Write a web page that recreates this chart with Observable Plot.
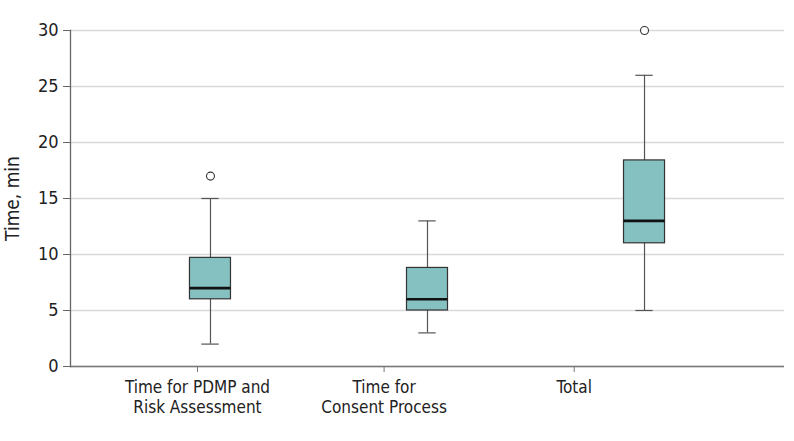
<!DOCTYPE html>
<html><head><meta charset="utf-8">
<script src="https://cdn.jsdelivr.net/npm/d3@7"></script>
<script src="https://cdn.jsdelivr.net/npm/@observablehq/plot@0.6"></script>
<style>body{margin:0;background:#fff}</style>
</head><body><div id="chart"></div>
<script>
// Category labels and box statistics (minutes)
const categories = ["Time for PDMP and\nRisk Assessment", "Time for\nConsent Process", "Total"];
const boxPos = [1, 2, 3];
const whiskerLow = [2, 3, 5];
const q1 = [6, 5, 11];
const median = [7, 6, 13];
const q3 = [9.7, 8.8, 18.4];
const whiskerHigh = [15, 13, 26];
// Outliers
const outlierPos = [1, 3];
const outlierVal = [17, 30];
// Axis tick positions/labels
const labelPos = [0.94, 1.80, 2.676];
const yTicks = [0, 5, 10, 15, 20, 25, 30];

const boxes = boxPos.map((p, i) => ({pos: p, lo: whiskerLow[i], q1: q1[i], med: median[i], q3: q3[i], hi: whiskerHigh[i]}));
const outliers = outlierPos.map((p, i) => ({pos: p, val: outlierVal[i]}));

const boxHalf = 0.0945, capHalf = 0.04;
const font = "'DejaVu Sans Condensed', 'Liberation Sans Narrow', 'Roboto', sans-serif";

const chart = Plot.plot({
  width: 794, height: 441,
  marginLeft: 70, marginRight: 10, marginTop: 30, marginBottom: 75,
  style: {fontFamily: font, fontSize: "17px", color: "#222", background: "#fff"},
  x: {type: "linear", domain: [0.355, 3.645], axis: null},
  y: {domain: [0, 30], axis: null},
  marks: [
    Plot.gridY(yTicks, {stroke: "#d9d9d9", strokeOpacity: 1, strokeWidth: 1.5}),
    Plot.ruleY([0], {stroke: "#777", strokeWidth: 1.5}),
    Plot.frame({anchor: "left", stroke: "#666", strokeWidth: 1.3}),
    Plot.axisY(yTicks, {tickSize: 7, tickPadding: 5, fontSize: 18, label: null, stroke: "#666", color: "#222"}),
    Plot.axisX(labelPos, {tickSize: 6, tickPadding: 7, fontSize: 17, label: null, stroke: "#777", lineHeight: 1.15,
      tickFormat: d => categories[labelPos.indexOf(d)]}),
    Plot.text(["Time, min"], {frameAnchor: "left", rotate: -90, dx: -58, fontSize: 19, textAnchor: "middle", lineAnchor: "middle", fill: "#222"}),
    Plot.ruleX(boxes, {x: "pos", y1: "lo", y2: "hi", stroke: "#555", strokeWidth: 1.2}),
    Plot.ruleY(boxes, {y: "lo", x1: d => d.pos - capHalf, x2: d => d.pos + capHalf, stroke: "#555", strokeWidth: 1.2}),
    Plot.ruleY(boxes, {y: "hi", x1: d => d.pos - capHalf, x2: d => d.pos + capHalf, stroke: "#555", strokeWidth: 1.2}),
    Plot.rect(boxes, {x1: d => d.pos - boxHalf, x2: d => d.pos + boxHalf, y1: "q1", y2: "q3", fill: "#85c1c1", stroke: "#333", strokeWidth: 1.2}),
    Plot.ruleY(boxes, {y: "med", x1: d => d.pos - boxHalf, x2: d => d.pos + boxHalf, stroke: "#111", strokeWidth: 2.6}),
    Plot.dot(outliers, {x: "pos", y: "val", r: 4, stroke: "#333", fill: "white", strokeWidth: 1.1})
  ]
});
document.getElementById("chart").appendChild(chart);
</script>
</body></html>
